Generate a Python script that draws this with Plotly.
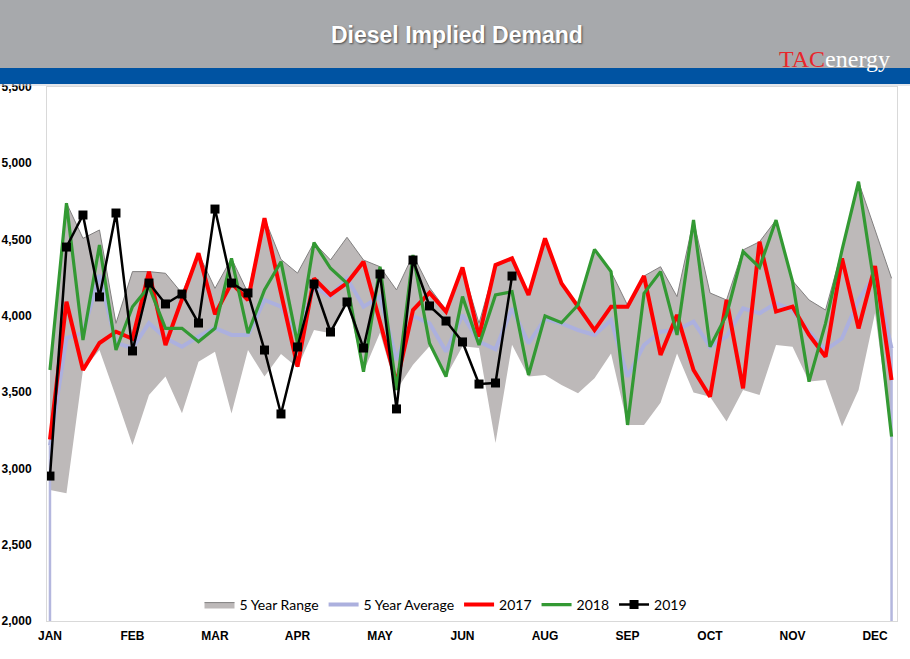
import plotly.graph_objects as go

# ---------------- data ----------------
weeks = list(range(1, 53))
tick_weeks = [1, 6, 11, 16, 21, 26, 31, 36, 41, 46, 51]
tick_labels = ["JAN", "FEB", "MAR", "APR", "MAY", "JUN", "AUG", "SEP", "OCT", "NOV", "DEC"]
y_ticks = [2000, 2500, 3000, 3500, 4000, 4500, 5000, 5500]

range_max = [3660, 4740, 4508, 4563, 3951, 4290, 4290, 4279, 4148, 4410,
             4180, 4377, 4150, 4640, 4370, 4280, 4480, 4366, 4515, 4366,
             4322, 4170, 4399, 4185, 4040, 4320, 3951, 4333, 4377, 4137,
             4508, 4213, 4075, 4436, 4290, 4070, 4261, 4322, 4126, 4628,
             4150, 4104, 4432, 4486, 4628, 4230, 4104, 4038, 4432, 4879,
             4563, 4246]
range_min = [2859, 2837, 3645, 3776, 3470, 3154, 3481, 3602, 3361, 3700,
             3765, 3360, 3776, 3602, 3750, 3660, 3907, 3886, 4110, 3634,
             3890, 3514, 3680, 3800, 3602, 3800, 3790, 3167, 3810, 3602,
             3612, 3547, 3492, 3591, 3754, 3285, 3285, 3430, 3754, 3497,
             3470, 3307, 3514, 3481, 3809, 3798, 3569, 3580, 3274, 3514,
             4019, 3208]
avg5 = [3150, 3855, 3888, 4268, 3822, 3790, 3953, 3855, 3798, 3864,
        3920, 3875, 3875, 4104, 4060, 3864, 4191, 4126, 4246, 4060,
        4126, 3711, 4000, 3951, 3766, 4006, 3831, 3781, 4049, 3820,
        3980, 3951, 3907, 3875, 3973, 3602, 3809, 3896, 3907, 3962,
        3798, 3864, 4049, 4017, 4082, 4038, 3896, 3776, 3853, 4104,
        4268, 3787]
y2017 = [3190, 4093, 3645, 3822, 3896, 3850, 4290, 3809, 4110, 4410,
         4010, 4215, 4104, 4640, 4150, 3667, 4246, 4137, 4215, 4355,
         3960, 3560, 4038, 4152, 4028, 4318, 3864, 4333, 4377, 4137,
         4508, 4213, 4060, 3907, 4060, 4060, 4261, 3744, 4006, 3645,
         3470, 4104, 3525, 4486, 4028, 4060, 3875, 3732, 4377, 3918,
         4327, 3580]
y2018 = [3645, 4738, 3842, 4464, 3776, 4060, 4191, 3918, 3918, 3831,
         3918, 4377, 3886, 4170, 4355, 3820, 4480, 4312, 4213, 3634,
         4322, 3514, 4399, 3820, 3602, 4126, 3809, 4137, 4159, 3612,
         3999, 3955, 4071, 4436, 4290, 3285, 4148, 4290, 3875, 4628,
         3798, 4006, 4421, 4318, 4628, 4224, 3569, 3951, 4432, 4879,
         4170, 3208]
y2019 = [2950, 4451, 4661, 4124, 4674, 3770, 4215, 4078, 4143, 3953,
         4700, 4215, 4150, 3776, 3357, 3796, 4209, 3894, 4091, 3789,
         4274, 3390, 4366, 4065, 3966, 3829, 3553, 3560, 4261]

# ---------------- figure ----------------
W, H = 910, 659
L, R, T, B = 47, 13, 87, 38
pw, ph = W - L - R, H - T - B


def px_x(p):
    return (p - L) / pw


def px_y(p):
    return (H - B - p) / ph


fig = go.Figure()

# 5 year range (band)
fig.add_trace(go.Scatter(x=weeks, y=range_min, mode="lines",
                         line=dict(color="rgba(0,0,0,0)", width=0),
                         showlegend=False, hoverinfo="skip"))
fig.add_trace(go.Scatter(x=weeks, y=range_max, mode="lines", name="5 Year Range",
                         line=dict(color="rgb(130,128,128)", width=1),
                         fill="tonexty", fillcolor="rgb(189,185,185)"))

# lavender edges of the average area
fig.add_trace(go.Scatter(x=[weeks[0], weeks[0], None, weeks[-1], weeks[-1]],
                         y=[y_ticks[0], avg5[0], None, y_ticks[0], avg5[-1]],
                         mode="lines", line=dict(color="rgb(180,183,222)", width=2.5),
                         showlegend=False, hoverinfo="skip"))

fig.add_trace(go.Scatter(x=weeks, y=avg5, mode="lines", name="5 Year Average",
                         line=dict(color="rgb(172,176,222)", width=4)))
fig.add_trace(go.Scatter(x=weeks, y=y2017, mode="lines", name="2017",
                         line=dict(color="rgb(255,0,0)", width=4)))
fig.add_trace(go.Scatter(x=weeks, y=y2018, mode="lines", name="2018",
                         line=dict(color="rgb(51,153,51)", width=3.2)))
fig.add_trace(go.Scatter(x=weeks[:len(y2019)], y=y2019, mode="lines+markers", name="2019",
                         line=dict(color="black", width=2.5),
                         marker=dict(symbol="square", size=9, color="black")))

# header bands
fig.add_shape(type="rect", xref="paper", yref="paper",
              x0=px_x(0), x1=px_x(W), y0=px_y(68), y1=px_y(0),
              fillcolor="rgb(167,169,172)", line=dict(width=0), layer="above")
fig.add_shape(type="rect", xref="paper", yref="paper",
              x0=px_x(0), x1=px_x(W), y0=px_y(84), y1=px_y(68),
              fillcolor="rgb(0,83,162)", line=dict(width=0), layer="above")
fig.add_shape(type="line", xref="paper", yref="paper",
              x0=px_x(0), x1=px_x(W), y0=px_y(85), y1=px_y(85),
              line=dict(color="rgb(200,205,215)", width=1), layer="above")

fig.add_annotation(text="<b>Diesel Implied Demand</b>", xref="paper", yref="paper",
                   x=px_x(457), y=px_y(35), xanchor="center", yanchor="middle", showarrow=False,
                   font=dict(family="Liberation Sans, Arial", size=23, color="white",
                             shadow="1px 1px 2px rgba(0,0,0,0.55)"))
fig.add_annotation(text='<span style="color:#E8262B">TAC</span><span style="color:white">energy</span>',
                   xref="paper", yref="paper", x=px_x(834), y=px_y(59),
                   xanchor="center", yanchor="middle", showarrow=False,
                   font=dict(family="Liberation Serif, Times New Roman", size=24))

fig.update_layout(
    width=W, height=H,
    margin=dict(l=L, r=R, t=T, b=B, autoexpand=False),
    paper_bgcolor="white", plot_bgcolor="white",
    showlegend=True,
    legend=dict(orientation="h", x=px_x(446), y=px_y(605), xanchor="center", yanchor="middle",
                font=dict(family="Lato, Liberation Sans", size=14, color="black"),
                bgcolor="rgba(255,255,255,0)", itemwidth=30, traceorder="normal"),
    xaxis=dict(range=[weeks[0] - 0.18, weeks[-1] + 0.33], tickvals=tick_weeks, ticktext=tick_labels,
               showgrid=False, zeroline=False, showline=True, linecolor="rgb(217,217,217)",
               mirror=True, ticks="", ticklen=0, ticklabelstandoff=4, automargin=False,
               tickfont=dict(family="Liberation Sans, Arial", size=12, color="black", weight="bold")),
    yaxis=dict(range=[y_ticks[0], y_ticks[-1]], tickvals=y_ticks, tickformat=",",
               showgrid=False, zeroline=False, showline=True, linecolor="rgb(217,217,217)",
               mirror=True, ticks="", ticklabelstandoff=12, automargin=False,
               tickfont=dict(family="Liberation Sans, Arial", size=12, color="black", weight="bold")),
)

fig.write_html("out.html", config={"displayModeBar": False},
               post_script="document.body.style.margin='0px';")
